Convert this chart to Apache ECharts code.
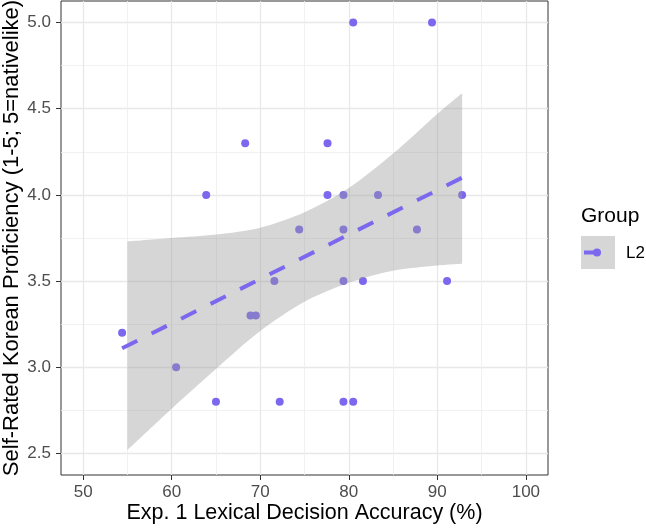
<!DOCTYPE html>
<html>
<head>
<meta charset="utf-8">
<script src="https://cdn.jsdelivr.net/npm/echarts@6/dist/echarts.min.js"></script>
<style>
html, body { margin: 0; padding: 0; background: #fff; }
#main { width: 646px; height: 529px; }
</style>
</head>
<body>
<div id="main"></div>
<script>
// one point per L2 participant
var accuracy = [68.3, 63.9, 74.4, 77.6, 77.6, 80.5, 89.4, 79.4, 83.3, 92.8, 79.4, 87.7,
                71.6, 54.4, 68.9, 69.5, 60.5, 65.0, 72.2, 79.4, 81.6, 91.1, 79.4, 80.5];
var proficiency = [4.3, 4.0, 3.8, 4.3, 4.0, 5.0, 5.0, 4.0, 4.0, 4.0, 3.8, 3.8,
                   3.5, 3.2, 3.3, 3.3, 3.0, 2.8, 2.8, 3.5, 3.5, 3.5, 2.8, 2.8];

// linear fit (dashed) and its 95% band
var fitX = [54.4, 92.8];
var fitY = [3.11, 4.10];
var bandX = [55, 60, 65, 70, 75, 80, 85, 90, 92.8];
var bandLower = [2.52, 2.76, 2.99, 3.21, 3.38, 3.49, 3.56, 3.59, 3.60];
var bandUpper = [3.73, 3.75, 3.77, 3.81, 3.90, 4.04, 4.24, 4.47, 4.59];

// axis breaks
var xBreaks = [50, 60, 70, 80, 90, 100];
var xMinor = [55, 65, 75, 85, 95];
var yBreaks = [2.5, 3.0, 3.5, 4.0, 4.5, 5.0];
var yMinor = [2.75, 3.25, 3.75, 4.25, 4.75];

var purple = '#7B68EE';
var font = '"Liberation Sans", Arial, Helvetica, sans-serif';

var chart = echarts.init(document.getElementById('main'));

var points = accuracy.map(function (x, i) { return [x, proficiency[i]]; });
// band rows are [y, x] so that the stack runs on y (first value column)
var lowerData = bandX.map(function (x, i) { return [bandLower[i], x]; });
var widthData = bandX.map(function (x, i) { return [+(bandUpper[i] - bandLower[i]).toFixed(3), x]; });
var fitData = fitX.map(function (x, i) { return [x, fitY[i]]; });

var option = {
    animation: false,
    textStyle: { fontFamily: font },
    grid: {
        left: 61, right: 98, top: 1, bottom: 54,
        outerBoundsMode: 'none', containLabel: false,
        show: true, borderColor: '#333', borderWidth: 1, backgroundColor: '#fff'
    },
    xAxis: [{
        type: 'value', min: 47.5, max: 102.5,
        name: 'Exp. 1 Lexical Decision Accuracy (%)',
        nameLocation: 'middle', nameGap: 27, nameMoveOverlap: false,
        nameTextStyle: { fontSize: 21.5, color: '#000', fontFamily: font },
        axisLine: { show: false },
        axisTick: { customValues: xBreaks, length: 5, lineStyle: { color: '#333' } },
        axisLabel: { customValues: xBreaks, color: '#4d4d4d', fontSize: 17, margin: 9, fontFamily: font },
        splitLine: { show: true, lineStyle: { color: '#e8e8e8', width: 1.3 } }
    }, {
        type: 'value', min: 47.5, max: 102.5, position: 'top',
        axisLine: { show: false },
        axisTick: { show: false, customValues: xMinor },
        axisLabel: { show: false, customValues: xMinor },
        splitLine: { show: true, lineStyle: { color: '#eeeeee', width: 0.8 } }
    }],
    yAxis: [{
        type: 'value', min: 2.375, max: 5.125,
        name: 'Self-Rated Korean Proficiency (1-5; 5=nativelike)',
        nameLocation: 'middle', nameGap: 38, nameMoveOverlap: false,
        nameTextStyle: { fontSize: 22, color: '#000', fontFamily: font },
        axisLine: { show: false },
        axisTick: { customValues: yBreaks, length: 5, lineStyle: { color: '#333' } },
        axisLabel: {
            customValues: yBreaks, color: '#4d4d4d', fontSize: 17, margin: 10, fontFamily: font,
            formatter: function (v) { return v.toFixed(1); }
        },
        splitLine: { show: true, lineStyle: { color: '#e8e8e8', width: 1.3 } }
    }, {
        type: 'value', min: 2.375, max: 5.125, position: 'right',
        axisLine: { show: false },
        axisTick: { show: false, customValues: yMinor },
        axisLabel: { show: false, customValues: yMinor },
        splitLine: { show: true, lineStyle: { color: '#eeeeee', width: 0.8 } }
    }],
    series: [{
        type: 'scatter',
        z: 1,
        symbolSize: 8,
        itemStyle: { color: purple, opacity: 1 },
        data: points
    }, {
        // bottom of the band, invisible
        type: 'line', stack: 'ci', z: 2,
        encode: { x: 1, y: 0 },
        smooth: 0.3, symbol: 'none',
        lineStyle: { opacity: 0 },
        data: lowerData
    }, {
        type: 'line', stack: 'ci', z: 2,
        encode: { x: 1, y: 0 },
        smooth: 0.3, symbol: 'none',
        lineStyle: { opacity: 0 },
        areaStyle: { color: 'rgba(153,153,153,0.4)', opacity: 1 },
        data: widthData
    }, {
        type: 'line', z: 3,
        symbol: 'none',
        lineStyle: { color: purple, width: 4, type: [17, 16], cap: 'butt' },
        data: fitData
    }],
    graphic: [
        { type: 'text', x: 581, y: 216, style: { text: 'Group', fill: '#000', font: '21px ' + font, verticalAlign: 'middle' } },
        { type: 'rect', shape: { x: 581, y: 236, width: 34, height: 33 }, style: { fill: 'rgba(153,153,153,0.4)' } },
        { type: 'line', shape: { x1: 584, y1: 252.5, x2: 597, y2: 252.5 }, style: { stroke: purple, lineWidth: 4 } },
        { type: 'circle', shape: { cx: 597, cy: 252.5, r: 4 }, style: { fill: purple } },
        { type: 'text', x: 626, y: 253, style: { text: 'L2', fill: '#000', font: '17px ' + font, verticalAlign: 'middle' } }
    ]
};

chart.setOption(option);
</script>
</body>
</html>
